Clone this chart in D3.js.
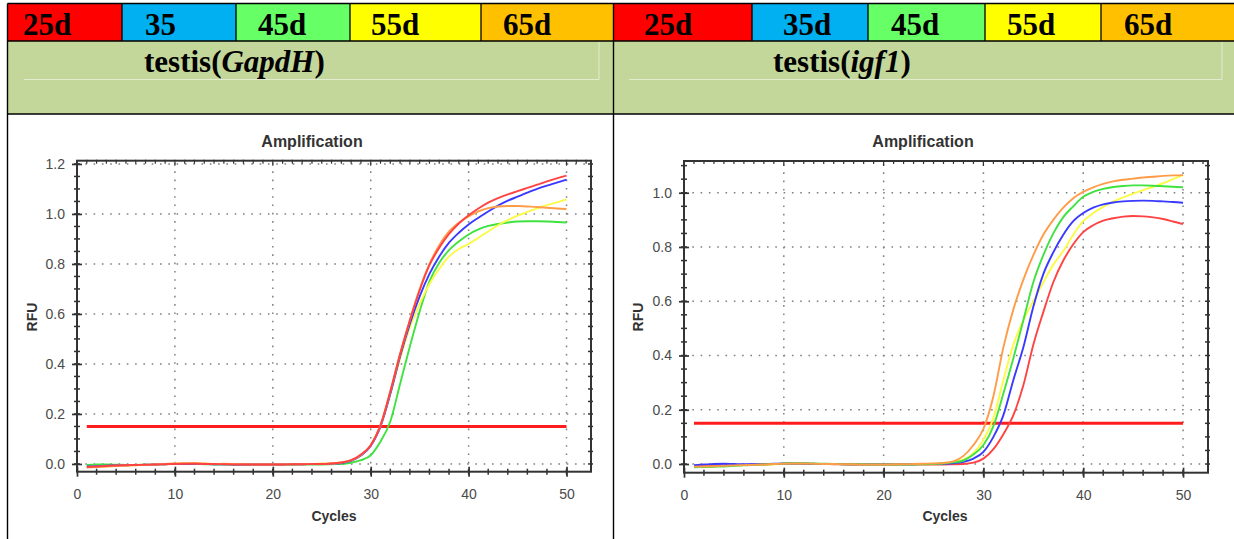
<!DOCTYPE html>
<html><head><meta charset="utf-8">
<script src="https://cdn.jsdelivr.net/npm/d3@7"></script>
<style>body{margin:0;background:#fff;} svg{display:block;}</style>
</head><body>
<svg id="c" width="1234" height="539"></svg>
<script>
// ---------- DATA ----------
const cycles = [1,2,3,4,5,6,7,8,9,10,11,12,13,14,15,16,17,18,19,20,21,22,23,24,25,26,27,28,29,30,31,32,33,34,35,36,37,38,39,40,41,42,43,44,45,46,47,48,49,50];
const stagesLeft = ["25d","35","45d","55d","65d"];
const stagesRight = ["25d","35d","45d","55d","65d"];
const stageColors = ["#ff0000","#00b0f0","#66ff66","#ffff00","#ffc000"];
const seriesColors = {red:"#ff4343", blue:"#3a3aff", green:"#3fe23f", yellow:"#fbfb45", orange:"#ff9c48"};
const xTicks = [0,10,20,30,40,50];
const yTicksLeft = [0.0,0.2,0.4,0.6,0.8,1.0,1.2];
const yTicksRight = [0.0,0.2,0.4,0.6,0.8,1.0];
const thresholdLeft = 0.15;
const thresholdRight = 0.15;
const thresholdCycles = [1,50];

// testis (GapdH)
const gapdhRed    = [-0.012,-0.010,-0.008,-0.006,-0.005,-0.004,-0.003,-0.002,-0.001,0.000,0.001,0.001,0.000,0.000,-0.001,-0.002,-0.002,-0.002,-0.002,-0.002,-0.002,-0.001,-0.001,0.000,0.000,0.002,0.006,0.015,0.038,0.075,0.155,0.29,0.44,0.575,0.695,0.795,0.865,0.92,0.962,0.995,1.022,1.045,1.063,1.078,1.091,1.104,1.117,1.13,1.142,1.153];
const gapdhBlue   = [-0.010,-0.009,-0.007,-0.006,-0.005,-0.004,-0.003,-0.002,-0.001,0.000,0.000,0.001,0.000,-0.001,-0.001,-0.002,-0.002,-0.002,-0.002,-0.002,-0.002,-0.001,-0.001,0.000,0.000,0.001,0.004,0.012,0.034,0.072,0.15,0.28,0.43,0.56,0.67,0.76,0.83,0.885,0.925,0.958,0.985,1.01,1.033,1.053,1.069,1.085,1.10,1.113,1.125,1.137];
const gapdhGreen  = [-0.004,-0.002,-0.002,-0.003,-0.004,-0.004,-0.003,-0.002,-0.001,0.000,0.000,0.000,-0.001,-0.002,-0.002,-0.003,-0.003,-0.003,-0.003,-0.003,-0.003,-0.003,-0.002,-0.002,-0.002,-0.001,0.000,0.005,0.015,0.035,0.09,0.17,0.32,0.47,0.61,0.73,0.805,0.855,0.89,0.918,0.938,0.952,0.96,0.966,0.97,0.971,0.971,0.97,0.968,0.966];
const gapdhYellow = [-0.012,-0.011,-0.009,-0.007,-0.006,-0.004,-0.003,-0.002,-0.001,0.001,0.002,0.002,0.001,0.000,0.000,-0.001,-0.002,-0.002,-0.002,-0.002,-0.001,-0.001,0.000,0.000,0.001,0.002,0.006,0.014,0.035,0.074,0.15,0.28,0.42,0.545,0.64,0.72,0.78,0.83,0.86,0.88,0.905,0.93,0.955,0.975,0.993,1.008,1.022,1.035,1.046,1.058];
const gapdhOrange = [-0.014,-0.012,-0.010,-0.008,-0.006,-0.005,-0.004,-0.002,0.000,0.002,0.003,0.004,0.002,0.000,0.001,0.000,-0.001,-0.002,-0.002,-0.002,-0.002,-0.001,-0.001,0.000,0.001,0.002,0.006,0.014,0.036,0.075,0.155,0.29,0.44,0.575,0.70,0.80,0.875,0.93,0.965,0.99,1.01,1.023,1.03,1.032,1.032,1.03,1.028,1.025,1.022,1.02];

// testis (igf1)
const igfRed    = [-0.008,-0.007,-0.006,-0.005,-0.004,-0.003,-0.002,-0.001,0.000,0.001,0.002,0.001,0.000,0.000,-0.001,-0.001,-0.002,-0.002,-0.002,-0.002,-0.002,-0.002,-0.002,-0.002,-0.002,-0.002,-0.001,0.000,0.005,0.02,0.055,0.11,0.18,0.29,0.44,0.56,0.67,0.75,0.81,0.855,0.88,0.897,0.906,0.912,0.914,0.913,0.909,0.903,0.894,0.884];
const igfBlue   = [-0.004,-0.002,0.000,0.001,0.000,-0.001,-0.001,0.000,0.001,0.002,0.002,0.002,0.001,0.000,0.000,-0.001,-0.001,-0.001,-0.001,-0.001,-0.001,-0.001,-0.001,0.000,0.000,0.001,0.003,0.008,0.02,0.045,0.10,0.18,0.31,0.43,0.58,0.70,0.78,0.845,0.895,0.925,0.945,0.957,0.964,0.968,0.97,0.971,0.97,0.968,0.966,0.963];
const igfGreen  = [-0.012,-0.011,-0.010,-0.009,-0.007,-0.005,-0.003,-0.002,0.000,0.002,0.003,0.003,0.002,0.001,0.000,-0.001,-0.001,-0.001,-0.002,-0.002,-0.002,-0.002,-0.002,-0.001,0.000,0.002,0.006,0.013,0.035,0.07,0.14,0.26,0.39,0.53,0.67,0.77,0.85,0.91,0.95,0.985,1.003,1.014,1.021,1.025,1.027,1.027,1.026,1.024,1.022,1.02];
const igfYellow = [-0.010,-0.009,-0.008,-0.007,-0.006,-0.004,-0.003,-0.002,-0.001,0.001,0.002,0.002,0.001,0.000,0.000,-0.001,-0.001,-0.002,-0.002,-0.002,-0.002,-0.001,-0.001,0.000,0.001,0.003,0.008,0.016,0.04,0.09,0.17,0.31,0.44,0.53,0.60,0.67,0.735,0.785,0.845,0.895,0.925,0.948,0.967,0.983,0.997,1.01,1.022,1.035,1.05,1.065];
const igfOrange = [-0.010,-0.009,-0.008,-0.007,-0.005,-0.004,-0.003,-0.002,0.000,0.001,0.002,0.002,0.001,0.000,0.000,-0.001,-0.001,-0.002,-0.002,-0.002,-0.001,-0.001,0.000,0.001,0.002,0.004,0.01,0.03,0.07,0.13,0.25,0.43,0.57,0.68,0.77,0.845,0.90,0.945,0.98,1.003,1.02,1.033,1.042,1.048,1.052,1.056,1.059,1.062,1.064,1.065];

// ---------- DRAW ----------
const svg = d3.select("#c");
const serif = "'Liberation Serif','Times New Roman',serif";
const sans = "'Liberation Sans',Arial,sans-serif";

svg.append("rect").attr("x",0).attr("y",0).attr("width",1234).attr("height",539).attr("fill","#fff");

function header(edges, labels, textX, italicPart, titleX, innerLine) {
  labels.forEach((lab,i)=>{
    svg.append("rect").attr("x",edges[i]).attr("y",4).attr("width",edges[i+1]-edges[i]).attr("height",37).attr("fill",stageColors[i]);
    svg.append("text").attr("x",textX[i]).attr("y",34.5).attr("font-family",serif).attr("font-weight","bold")
      .attr("font-size",31).attr("fill","#000").text(lab);
  });
  svg.append("rect").attr("x",edges[0]).attr("y",41).attr("width",edges[edges.length-1]-edges[0]).attr("height",73).attr("fill","#c4d79b");
  svg.append("path").attr("d",`M${innerLine[0]},79.5H${innerLine[1]}V41`).attr("fill","none").attr("stroke","#e3ebd0").attr("stroke-width",1);
  const t = svg.append("text").attr("x",titleX).attr("y",72).attr("font-family",serif).attr("font-weight","bold").attr("font-size",31).attr("fill","#000");
  t.append("tspan").text("testis(");
  t.append("tspan").attr("font-style","italic").text(italicPart);
  t.append("tspan").text(")");
  edges.slice(1,-1).forEach(e=>{
    svg.append("line").attr("x1",e).attr("x2",e).attr("y1",3.5).attr("y2",41).attr("stroke","#000").attr("stroke-width",1.3);
  });
}
header([8,122,236,350,481,613], stagesLeft, [23,145,258,371,503], "GapdH", 144, [24,599]);
header([614,752,868,985,1101,1234], stagesRight, [644,783,891,1007,1124], "igf1", 773, [629,1222]);

[3.5,41,114].forEach(y=>svg.append("line").attr("x1",7.5).attr("x2",1234).attr("y1",y).attr("y2",y).attr("stroke","#000").attr("stroke-width",1.4));
[7.5,613.5].forEach(x=>svg.append("line").attr("x1",x).attr("x2",x).attr("y1",3.5).attr("y2",539).attr("stroke","#000").attr("stroke-width",1.4));

function chart(cfg) {
  const x = d3.scaleLinear().domain([0,52.5]).range([cfg.x0, cfg.x1]);
  const y = d3.scaleLinear().domain(cfg.yDomain).range([cfg.yB, cfg.yT]);
  const g = svg.append("g");
  const dark = "#333";

  xTicks.filter(d=>d>0).forEach(d=>{
    g.append("line").attr("x1",x(d)).attr("x2",x(d)).attr("y1",cfg.yB).attr("y2",cfg.yT)
      .attr("stroke","#808080").attr("stroke-width",1.5).attr("stroke-dasharray","1.6,6.7");
  });
  cfg.yTicks.forEach(d=>{
    g.append("line").attr("x1",cfg.x0).attr("x2",cfg.x1).attr("y1",y(d)).attr("y2",y(d))
      .attr("stroke","#808080").attr("stroke-width",1.5).attr("stroke-dasharray","1.6,6.7");
  });

  g.append("line").attr("x1",x(thresholdCycles[0])).attr("x2",x(thresholdCycles[1]))
    .attr("y1",y(cfg.threshold)).attr("y2",y(cfg.threshold)).attr("stroke","#ff1c1c").attr("stroke-width",3);

  const line = d3.line().x((d,i)=>x(cycles[i])).y(d=>y(d)).curve(d3.curveMonotoneX);
  cfg.series.forEach(s=>{
    g.append("path").attr("d",line(s.values)).attr("fill","none").attr("stroke",s.color).attr("stroke-width",1.9);
  });

  g.append("rect").attr("x",cfg.x0).attr("y",cfg.yT).attr("width",cfg.x1-cfg.x0).attr("height",cfg.yB-cfg.yT)
    .attr("fill","none").attr("stroke",dark).attr("stroke-width",2);

  const minorY = d3.range(0, cfg.yDomain[1]+1e-9, 0.05);
  minorY.forEach(v=>{
    g.append("line").attr("x1",cfg.x0-3).attr("x2",cfg.x0+3).attr("y1",y(v)).attr("y2",y(v)).attr("stroke",dark).attr("stroke-width",1.5);
    g.append("line").attr("x1",cfg.x1-3).attr("x2",cfg.x1+2).attr("y1",y(v)).attr("y2",y(v)).attr("stroke",dark).attr("stroke-width",1.5);
  });
  d3.range(2, 52, 2).forEach(v=>{
    g.append("line").attr("x1",x(v)).attr("x2",x(v)).attr("y1",cfg.yB-3).attr("y2",cfg.yB+3).attr("stroke",dark).attr("stroke-width",1.5);
  });
  d3.range(1, 53, 1).forEach(v=>{
    g.append("line").attr("x1",x(v)).attr("x2",x(v)).attr("y1",cfg.yT-1).attr("y2",cfg.yT+(v%10===0?5:3)).attr("stroke",dark).attr("stroke-width",1.2);
  });

  const ax = g.append("g").attr("transform",`translate(0,${cfg.yB})`)
    .call(d3.axisBottom(x).tickValues(xTicks).tickFormat(d3.format("d")).tickSize(5).tickPadding(12));
  ax.select(".domain").remove();
  ax.selectAll(".tick line").attr("y1",-5).attr("stroke",dark).attr("stroke-width",1.7);
  ax.selectAll("text").attr("font-family",sans).attr("font-size",14).attr("fill","#4a4a4a");

  const ay = g.append("g").attr("transform",`translate(${cfg.x0},0)`)
    .call(d3.axisLeft(y).tickValues(cfg.yTicks).tickFormat(d3.format(".1f")).tickSize(5).tickPadding(7));
  ay.select(".domain").remove();
  ay.selectAll(".tick line").attr("x1",5).attr("stroke",dark).attr("stroke-width",1.7);
  ay.selectAll("text").attr("font-family",sans).attr("font-size",14).attr("fill","#4a4a4a");

  g.append("text").attr("x",cfg.titleX).attr("y",147).attr("text-anchor","middle").attr("font-family",sans)
    .attr("font-weight","bold").attr("font-size",16).attr("fill","#333").text("Amplification");
  g.append("text").attr("x",cfg.cyclesX).attr("y",521).attr("text-anchor","middle").attr("font-family",sans)
    .attr("font-weight","bold").attr("font-size",14).attr("fill","#333").text("Cycles");
  g.append("text").attr("transform",`translate(${cfg.rfuX},317) rotate(-90)`).attr("text-anchor","middle").attr("font-family",sans)
    .attr("font-weight","bold").attr("font-size",14).attr("fill","#333").text("RFU");
}

chart({
  x0:77, x1:591, yB:471.7, yT:160.7, yDomain:[-0.031,1.213], yTicks:yTicksLeft, threshold:thresholdLeft,
  titleX:312, cyclesX:334, rfuX:37,
  series:[
    {values:gapdhGreen, color:seriesColors.green},
    {values:gapdhYellow, color:seriesColors.yellow},
    {values:gapdhBlue, color:seriesColors.blue},
    {values:gapdhOrange, color:seriesColors.orange},
    {values:gapdhRed, color:seriesColors.red}
  ]
});
chart({
  x0:684, x1:1208, yB:472.7, yT:161, yDomain:[-0.032,1.117], yTicks:yTicksRight, threshold:thresholdRight,
  titleX:923, cyclesX:945, rfuX:643,
  series:[
    {values:igfYellow, color:seriesColors.yellow},
    {values:igfRed, color:seriesColors.red},
    {values:igfBlue, color:seriesColors.blue},
    {values:igfGreen, color:seriesColors.green},
    {values:igfOrange, color:seriesColors.orange}
  ]
});
</script>
</body></html>
